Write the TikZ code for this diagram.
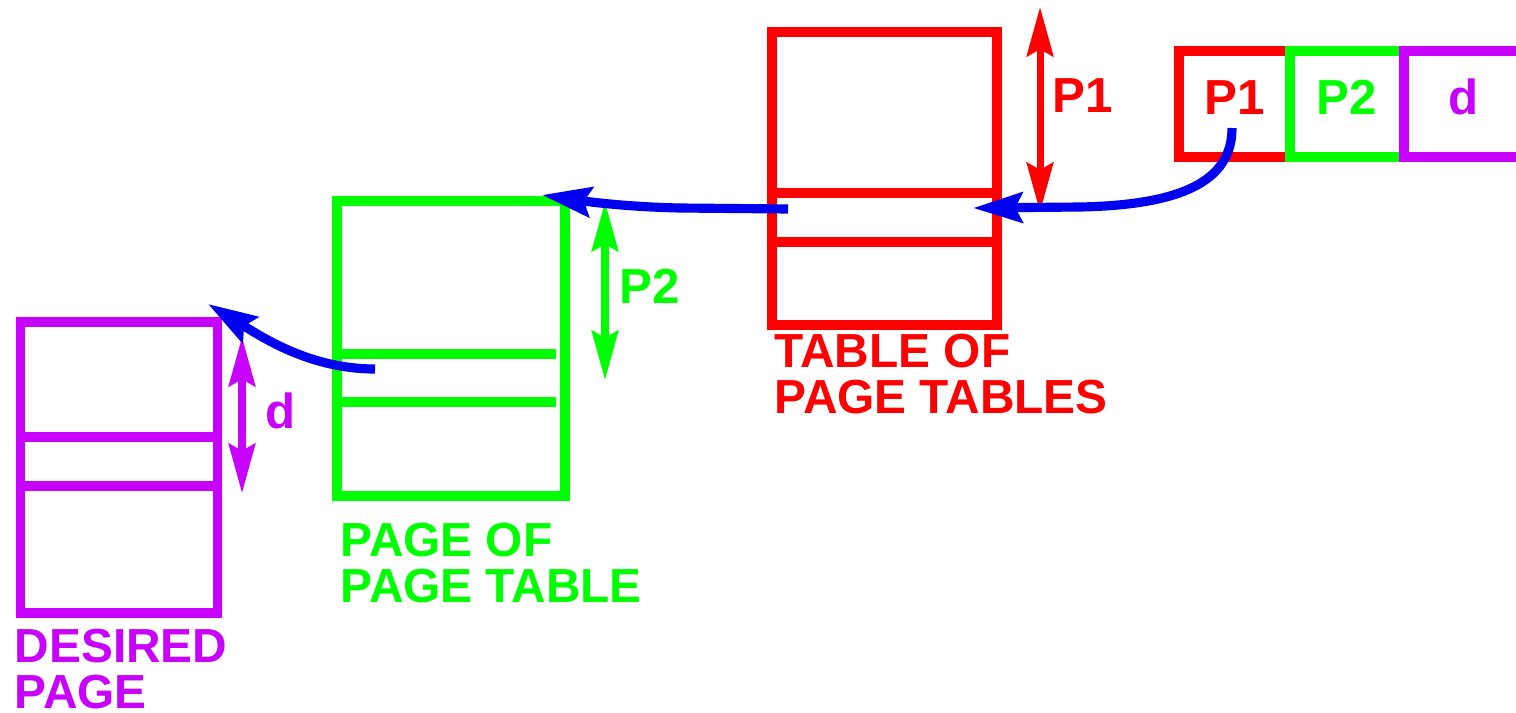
\documentclass[tikz,border=0pt]{standalone}
\usepackage{fontspec}
\setmainfont{Liberation Sans}
\usetikzlibrary{arrows.meta}
\definecolor{tred}{RGB}{255,0,0}
\definecolor{tgreen}{RGB}{0,255,0}
\definecolor{tpurple}{RGB}{200,0,255}
\definecolor{tblue}{RGB}{0,0,240}

\begin{document}
\begin{tikzpicture}[x=0.01cm,y=-0.01cm,
  frame/.style={draw, line width=2.8pt, inner sep=0pt},
  rule/.style={line width=2.6pt},
  cell/.style={draw, line width=2.6pt, minimum height=1.06cm, inner sep=0pt,
    font=\bfseries\fontsize{14}{14}\selectfont, text height=10pt, text depth=4.3pt},
  caption/.style={anchor=north west, inner sep=0pt, align=left,
    font=\bfseries\fontsize{13.6}{13.3}\selectfont},
  tag/.style={anchor=base, inner sep=0pt, font=\bfseries\fontsize{14}{14}\selectfont},
  span/.style={line width=2pt,
    {Stealth[length=14pt,width=7.5pt,inset=2pt]}-{Stealth[length=14pt,width=7.5pt,inset=2pt]}},
  ptr/.style={tblue, line width=2.6pt, -{Stealth[length=14pt,width=8.5pt,inset=2pt]}}
]
\useasboundingbox (0,0) rectangle (1516,712);

% virtual address: P1 | P2 | d
\node[cell, tred, minimum width=1.11cm] (rp1) at (1234.5,104) {P1};
\node[cell, tgreen, minimum width=1.14cm] (rp2) at (1347,104) {P2};
\node[cell, tpurple, minimum width=1.20cm] (rd) at (1464,104) {d};

% table of page tables
\node[frame, tred, minimum width=2.25cm, minimum height=2.93cm] (outer) at (884.5,178.5) {};
\draw[rule, tred] (outer.west |- 0,193) -- (outer.east |- 0,193);
\draw[rule, tred] (outer.west |- 0,242) -- (outer.east |- 0,242);
\node[caption, tred] (outercap) at (774,333) {TABLE OF\\PAGE TABLES};
\coordinate (p1top) at (1040,7);
\coordinate (p1bot) at (1040,212);
\draw[span, tred] (p1top) -- (p1bot);
\node[tag, tred] (p1tag) at (1083,112) {P1};

% page of page table
\node[frame, tgreen, minimum width=2.28cm, minimum height=2.95cm] (inner) at (451,348.5) {};
\draw[rule, tgreen] (inner.west |- 0,354) -- (556,354);
\draw[rule, tgreen] (inner.west |- 0,402) -- (556,402);
\node[caption, tgreen] (innercap) at (340,522) {PAGE OF\\PAGE TABLE};
\coordinate (p2top) at (605,202);
\coordinate (p2bot) at (605,380);
\draw[span, tgreen] (p2top) -- (p2bot);
\node[tag, tgreen] (p2tag) at (650,303) {P2};

% desired page
\node[frame, tpurple, minimum width=1.97cm, minimum height=2.91cm] (page) at (119,467.5) {};
\draw[rule, tpurple] (page.west |- 0,437) -- (page.east |- 0,437);
\draw[rule, tpurple] (page.west |- 0,486) -- (page.east |- 0,486);
\node[caption, tpurple] (pagecap) at (14,628) {DESIRED\\PAGE};
\coordinate (dtop) at (242,337);
\coordinate (dbot) at (242,493);
\draw[span, tpurple] (dtop) -- (dbot);
\node[tag, tpurple] (dtag) at (281,428) {d};

% translation pointers
\coordinate (p1out) at (1232,128);
\coordinate (p1in) at (973,208);
\draw[ptr] (p1out) .. controls (1232,182) and (1180,205) .. (1080,207) -- (p1in);

\coordinate (rowout) at (788,209);
\coordinate (p2in) at (542,195);
\draw[ptr] (rowout) -- (680,208) .. controls (630,207) and (590,202) .. (p2in);

\coordinate (pgout) at (375,369);
\coordinate (dpin) at (208,304);
\draw[ptr] (pgout) .. controls (310,369) and (262,337) .. (dpin);
\end{tikzpicture}
\end{document}
